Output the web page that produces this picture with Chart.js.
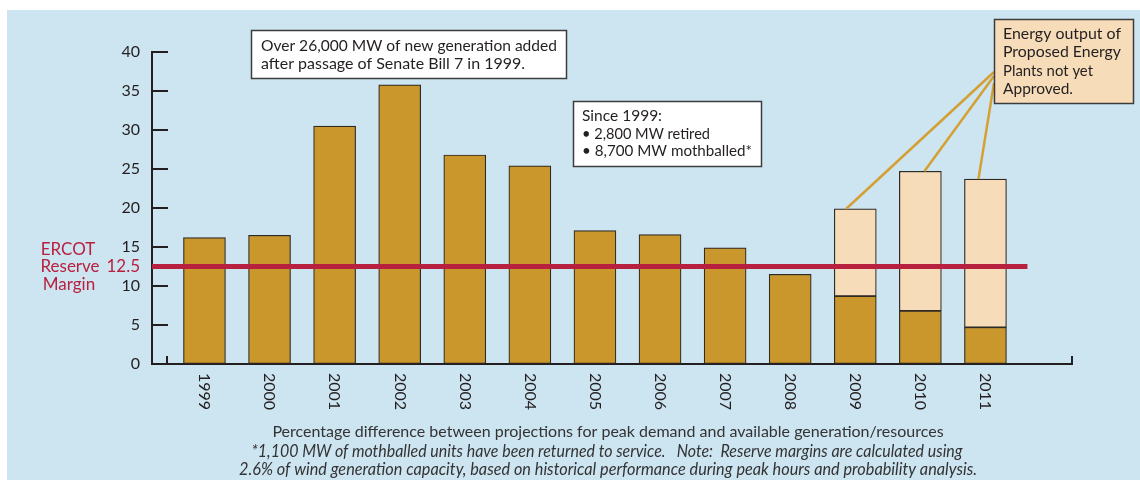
<!DOCTYPE html>
<html>
<head>
<meta charset="utf-8">
<script src="https://cdn.jsdelivr.net/npm/chart.js@4"></script>
<style>
  html, body { margin: 0; padding: 0; background: #fff; }
  #wrap { position: relative; width: 1140px; height: 480px; }
  #bg { position: absolute; left: 7px; top: 10px; right: 0; bottom: 0; background: #cde4f1; }
  canvas { position: absolute; left: 0; top: 0; }
</style>
</head>
<body>
<div id="wrap">
  <div id="bg"></div>
  <canvas id="chart" width="1140" height="480"></canvas>
</div>
<script>
// data
const years = ["1999", "2000", "2001", "2002", "2003", "2004", "2005", "2006", "2007", "2008", "2009", "2010", "2011"];
const existing = [16.2, 16.5, 30.5, 35.8, 26.8, 25.4, 17.1, 16.6, 14.9, 11.5, 8.7, 6.8, 4.7];
const proposed = [null, null, null, null, null, null, null, null, null, null, 11.2, 17.9, 19.0];
const yTicks = [0, 5, 10, 15, 20, 25, 30, 35, 40];
const reserveMargin = 12.5;

const noteTop = ["Over 26,000 MW of new generation added", "after passage of Senate Bill 7 in 1999."];
const noteMid = ["Since 1999:", "\u2022 2,800 MW retired", "\u2022 8,700 MW mothballed*"];
const noteRight = ["Energy output of", "Proposed Energy", "Plants not yet", "Approved."];
const caption = "Percentage difference between projections for peak demand and available generation/resources";
const footnotes = [
  "*1,100 MW of mothballed units have been returned to service.   Note:  Reserve margins are calculated using",
  "2.6% of wind generation capacity, based on historical performance during peak hours and probability analysis."
];

const FONT = "Lato, 'Open Sans', sans-serif";
const GOLD = "#c9972c";
const TAN = "#f6dcb9";
const RED = "#b8203f";
const INK = "#231f20";

function box(ctx, x, y, w, h, fill) {
  ctx.fillStyle = fill;
  ctx.fillRect(x, y, w, h);
  ctx.strokeStyle = "#3c3c3c";
  ctx.lineWidth = 1.5;
  ctx.strokeRect(x, y, w, h);
}

function lines(ctx, arr, x, y0, step, widths) {
  ctx.fillStyle = INK;
  ctx.font = "16px " + FONT;
  ctx.textAlign = "left";
  ctx.textBaseline = "middle";
  arr.forEach((t, i) => ctx.fillText(t, x, y0 + i * step, widths[i]));
}

const decor = {
  id: "decor",
  afterDatasetsDraw(chart) {
    const { ctx, chartArea: a, scales: { x, y } } = chart;
    ctx.save();
    // reserve margin line
    const ry = y.getPixelForValue(reserveMargin);
    ctx.strokeStyle = RED;
    ctx.lineWidth = 5;
    ctx.beginPath();
    ctx.moveTo(a.left, ry);
    ctx.lineTo(x.getPixelForValue(years.length - 1) + 42, ry);
    ctx.stroke();

    // callout lines to the proposed bars
    const hooks = [[10, -9, 72], [11, 4, 76], [12, -7, 83]];
    ctx.strokeStyle = "#d4a033";
    ctx.lineWidth = 2.5;
    hooks.forEach(([i, dx, by]) => {
      ctx.beginPath();
      ctx.moveTo(994, by);
      ctx.lineTo(x.getPixelForValue(i) + dx, y.getPixelForValue(existing[i] + proposed[i]));
      ctx.stroke();
    });
    ctx.restore();
  },
  afterDraw(chart) {
    const { ctx, chartArea: a, scales: { x, y } } = chart;
    ctx.save();
    // inner tick marks on y axis
    ctx.strokeStyle = INK;
    ctx.lineWidth = 2;
    yTicks.forEach(v => {
      const py = Math.round(y.getPixelForValue(v));
      ctx.beginPath();
      ctx.moveTo(a.left, py);
      ctx.lineTo(a.left + 16, py);
      ctx.stroke();
    });
    // small ticks on x axis
    [a.left + 15, a.right].forEach(px => {
      ctx.beginPath();
      ctx.moveTo(px, a.bottom);
      ctx.lineTo(px, a.bottom - 8);
      ctx.stroke();
    });

    // rotated year labels
    ctx.fillStyle = INK;
    ctx.font = "16px " + FONT;
    ctx.textAlign = "left";
    ctx.textBaseline = "middle";
    years.forEach((yr, i) => {
      ctx.save();
      ctx.translate(x.getPixelForValue(i), a.bottom + 9);
      ctx.rotate(Math.PI / 2);
      ctx.fillText(yr, 0, 0);
      ctx.restore();
    });

    // reserve margin label
    ctx.fillStyle = RED;
    ctx.font = "17px " + FONT;
    ctx.textAlign = "center";
    const ry = y.getPixelForValue(reserveMargin);
    ctx.fillText("ERCOT", 68, ry - 17);
    ctx.fillText("Reserve", 70, ry);
    ctx.fillText("Margin", 69, ry + 18);
    ctx.textAlign = "right";
    ctx.fillText(String(reserveMargin), 140, ry);

    // annotation boxes
    box(ctx, 251.5, 30.5, 315, 48, "#fff");
    lines(ctx, noteTop, 261, 45.5, 18.5, [296, 266]);
    box(ctx, 573.5, 101.5, 188, 65, "#fff");
    lines(ctx, noteMid, 582, 116, 17.6, [80, 128, 170]);
    box(ctx, 994.5, 19.5, 139, 84, TAN);
    lines(ctx, noteRight, 1003, 34, 18.2, [118, 118, 90, 70]);

    // caption and footnotes
    ctx.fillStyle = "#333";
    ctx.textAlign = "center";
    ctx.font = "16px " + FONT;
    ctx.fillText(caption, 608, 432, 675);
    ctx.font = "italic 17px " + FONT;
    ctx.fillText(footnotes[0], 607, 452, 711);
    ctx.fillText(footnotes[1], 608, 470, 738);
    ctx.restore();
  }
};

new Chart(document.getElementById("chart"), {
  type: "bar",
  data: {
    datasets: [
      {
        label: "Existing",
        data: years.map((yr, i) => ({ x: i, y: existing[i] })),
        backgroundColor: GOLD,
        borderColor: "#2e2a25",
        borderWidth: 1.2,
        borderSkipped: false,
        barThickness: 42
      },
      {
        label: "Proposed",
        data: years.map((yr, i) => ({ x: i, y: proposed[i] })),
        backgroundColor: TAN,
        borderColor: "#2e2a25",
        borderWidth: 1.2,
        borderSkipped: false,
        barThickness: 42
      }
    ]
  },
  options: {
    responsive: false,
    animation: false,
    events: [],
    layout: { padding: { left: 0, right: 68, top: 52, bottom: 0 } },
    plugins: { legend: { display: false }, tooltip: { enabled: false } },
    scales: {
      x: {
        type: "linear",
        offset: false,
        stacked: true,
        min: -0.806,
        max: 13.33,
        grid: { drawOnChartArea: false, drawTicks: false, offset: false },
        border: { display: true, color: INK, width: 2 },
        ticks: { display: false },
        afterFit: s => { s.height = 116; }
      },
      y: {
        stacked: true,
        min: 0,
        max: 40,
        grid: { drawOnChartArea: false, drawTicks: false },
        border: { display: true, color: INK, width: 2 },
        ticks: { stepSize: 5, padding: 12, color: INK, font: { family: FONT, size: 16 } },
        afterFit: s => { s.width = 152; }
      }
    }
  },
  plugins: [decor]
});
</script>
</body>
</html>
